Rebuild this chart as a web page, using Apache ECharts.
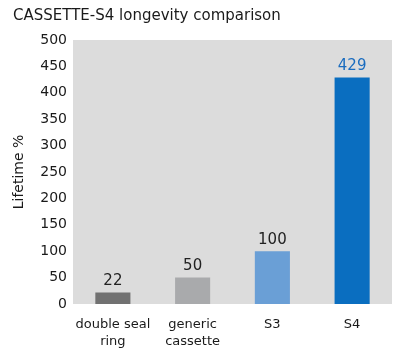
<!DOCTYPE html>
<html>
<head>
<meta charset="utf-8">
<script src="https://cdn.jsdelivr.net/npm/echarts@6/dist/echarts.min.js"></script>
<style>
  html, body { margin: 0; padding: 0; background: #fff; }
  #chart { width: 400px; height: 353px; }
</style>
</head>
<body>
<div id="chart"></div>
<script>
// 数据
const categories = ['double seal\nring', 'generic\ncassette', 'S3', 'S4'];
const lifetime = [22, 50, 100, 429];
const barColors = ['#717171', '#a9aaac', '#6a9fd6', '#0a6ec0'];
const labelColors = ['#222', '#222', '#222', '#1a6cbf'];

const chart = echarts.init(document.getElementById('chart'));
chart.setOption({
  backgroundColor: '#fff',
  textStyle: { fontFamily: 'DejaVu Sans' },
  title: {
    text: 'CASSETTE-S4 longevity comparison',
    left: 8,
    top: 4,
    textStyle: { fontSize: 15, fontWeight: 'normal', color: '#1a1a1a', fontFamily: 'DejaVu Sans' }
  },
  grid: {
    left: 73, right: 8, top: 40, bottom: 49,
    show: true,
    backgroundColor: '#dcdcdc',
    borderWidth: 0
  },
  xAxis: {
    type: 'category',
    data: categories,
    axisLine: { show: false },
    axisTick: { show: false },
    axisLabel: { color: '#1a1a1a', fontSize: 13, margin: 12, lineHeight: 17, interval: 0 }
  },
  yAxis: {
    type: 'value',
    min: 0,
    max: 500,
    interval: 50,
    name: 'Lifetime %',
    nameLocation: 'middle',
    nameGap: 47,
    nameTextStyle: { color: '#1a1a1a', fontSize: 14 },
    axisLine: { show: false },
    axisTick: { show: false },
    splitLine: { show: false },
    axisLabel: { color: '#1a1a1a', fontSize: 14, margin: 6 }
  },
  series: [{
    type: 'bar',
    barWidth: '44%',
    data: lifetime.map((v, i) => ({
      value: v,
      itemStyle: { color: barColors[i] },
      label: { color: labelColors[i] }
    })),
    label: {
      show: true,
      position: 'top',
      fontSize: 15,
      distance: 4
    }
  }]
});
</script>
</body>
</html>
